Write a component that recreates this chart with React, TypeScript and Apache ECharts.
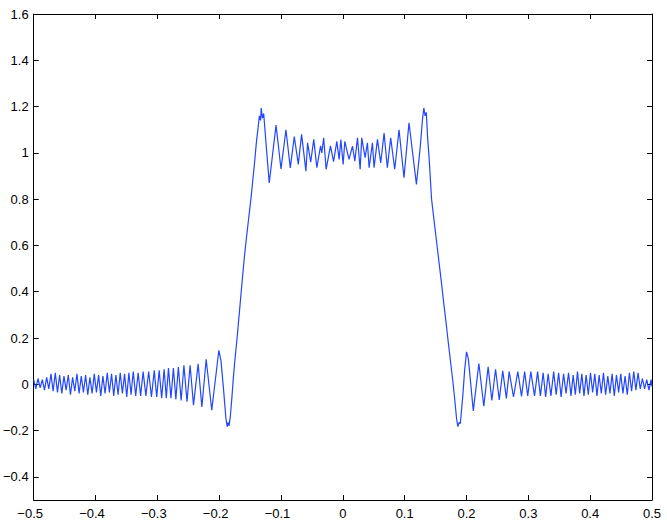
import React, { useEffect, useRef } from "react";
import * as echarts from "echarts";

// Left side-lobe tail (extrema)
const leftTailX = [
  -0.5, -0.4965, -0.493, -0.4895, -0.486, -0.4825, -0.479, -0.4755, -0.472, -0.4685,
  -0.465, -0.4615, -0.458, -0.4545, -0.451, -0.4475, -0.444, -0.4405, -0.437, -0.4335,
  -0.43, -0.4265, -0.423, -0.4195, -0.416, -0.4125, -0.409, -0.4055, -0.402, -0.3985,
  -0.395, -0.3915, -0.388, -0.3845, -0.381, -0.3775, -0.374, -0.3705, -0.367, -0.3635,
  -0.36, -0.3565, -0.353, -0.3495, -0.346, -0.3425, -0.339, -0.335, -0.331, -0.327,
  -0.323, -0.3185, -0.314, -0.3095, -0.305, -0.301, -0.297, -0.293, -0.289, -0.2855,
  -0.282, -0.278, -0.274, -0.27, -0.266, -0.2615, -0.257, -0.252, -0.247, -0.2415,
  -0.234, -0.228, -0.221, -0.212, -0.2005,
];
const leftTailY = [
  0.02, -0.02, 0.025, -0.015, 0.02, -0.025, 0.03, -0.02, 0.045, -0.03,
  0.05, -0.035, 0.04, -0.04, 0.035, -0.025, 0.04, -0.045, 0.03, -0.03,
  0.045, -0.04, 0.035, -0.035, 0.04, -0.045, 0.03, -0.04, 0.045, -0.035,
  0.04, -0.05, 0.035, -0.04, 0.05, -0.035, 0.045, -0.05, 0.04, -0.045,
  0.05, -0.04, 0.045, -0.055, 0.05, -0.045, 0.055, -0.05, 0.05, -0.05,
  0.055, -0.05, 0.055, -0.055, 0.06, -0.055, 0.06, -0.06, 0.065, -0.06,
  0.07, -0.06, 0.07, -0.065, 0.075, -0.07, 0.082, -0.075, 0.082, -0.09,
  0.088, -0.098, 0.108, -0.112, 0.147,
];

// Rising edge and first overshoot
const leftEdgeX = [
  -0.197, -0.193, -0.189, -0.187, -0.1855, -0.184, -0.182, -0.1795, -0.177, -0.174,
  -0.171, -0.168, -0.165, -0.162, -0.159, -0.156, -0.153, -0.15, -0.1475, -0.1455,
  -0.143, -0.14, -0.137, -0.135, -0.133, -0.132, -0.13, -0.128, -0.123,
];
const leftEdgeY = [
  0.1, -0.02, -0.15, -0.183, -0.165, -0.18, -0.14, -0.06, 0.03, 0.12,
  0.2, 0.29, 0.38, 0.47, 0.556, 0.63, 0.7, 0.77, 0.83, 0.886,
  0.95, 1.04, 1.11, 1.16, 1.14, 1.194, 1.15, 1.17, 1.0,
];

// Top plateau ripples
const plateauX = [
  -0.119, -0.108, -0.1, -0.092, -0.085, -0.0785, -0.072, -0.0667, -0.0597, -0.057,
  -0.052, -0.047, -0.042, -0.036, -0.034, -0.031, -0.027, -0.02, -0.015, -0.0097,
  -0.006, -0.0032, 0.0005, 0.0032, 0.01, 0.0156, 0.0194, 0.0237, 0.028, 0.0306,
  0.036, 0.0398, 0.0425, 0.0479, 0.0505, 0.056, 0.0613, 0.0667, 0.072, 0.0774,
  0.0839, 0.0909, 0.0989, 0.107, 0.119,
];
const plateauY = [
  0.87, 1.12, 0.93, 1.1, 0.935, 1.07, 0.95, 1.08, 0.921, 1.043,
  0.96, 1.058, 0.936, 1.03, 1.0, 1.065, 0.929, 1.03, 0.962, 1.05,
  0.972, 1.058, 0.95, 1.05, 0.972, 1.029, 0.964, 1.065, 0.929, 1.065,
  0.979, 1.043, 0.936, 1.043, 0.936, 1.058, 0.957, 1.086, 0.936, 1.065,
  0.929, 1.1, 0.893, 1.13, 0.864,
];

// Falling edge and first undershoot
const rightEdgeX = [
  0.125, 0.129, 0.131, 0.133, 0.135, 0.137, 0.1395, 0.1415, 0.1435, 0.147,
  0.151, 0.155, 0.159, 0.163, 0.167, 0.171, 0.175, 0.1785, 0.1815, 0.184,
  0.186, 0.188, 0.19, 0.194, 0.197, 0.2, 0.203,
];
const rightEdgeY = [
  1.02, 1.15, 1.194, 1.16, 1.175, 1.07, 0.98, 0.89, 0.8, 0.72,
  0.63, 0.54, 0.45, 0.355, 0.265, 0.17, 0.08, 0.0, -0.08, -0.15,
  -0.183, -0.165, -0.17, -0.05, 0.06, 0.14, 0.11,
];

// Right side-lobe tail
const rightTailX = [
  0.211, 0.22, 0.228, 0.235, 0.241, 0.247, 0.253, 0.2586, 0.2645, 0.269,
  0.276, 0.283, 0.289, 0.294, 0.299, 0.304, 0.31, 0.315, 0.3195, 0.324,
  0.328, 0.332, 0.3365, 0.341, 0.345, 0.349, 0.353, 0.357, 0.361, 0.365,
  0.369, 0.3725, 0.376, 0.3795, 0.383, 0.3865, 0.39, 0.3935, 0.397, 0.4005,
  0.404, 0.4075, 0.411, 0.4145, 0.418, 0.4215, 0.425, 0.4285, 0.432, 0.4355,
  0.439, 0.4425, 0.446, 0.4495, 0.453, 0.4565, 0.46, 0.4635, 0.467, 0.4705,
  0.474, 0.4775, 0.481, 0.4845, 0.488, 0.4915, 0.495, 0.4985, 0.5,
];
const rightTailY = [
  -0.115, 0.09, -0.095, 0.075, -0.07, 0.065, -0.068, 0.058, -0.061, 0.055,
  -0.055, 0.055, -0.052, 0.055, -0.05, 0.055, -0.05, 0.055, -0.05, 0.05,
  -0.055, 0.045, -0.05, 0.055, -0.045, 0.05, -0.055, 0.045, -0.04, 0.05,
  -0.05, 0.04, -0.045, 0.055, -0.04, 0.045, -0.05, 0.04, -0.045, 0.05,
  -0.035, 0.045, -0.05, 0.04, -0.04, 0.05, -0.045, 0.035, -0.04, 0.045,
  -0.05, 0.04, -0.035, 0.045, -0.04, 0.035, -0.045, 0.05, -0.03, 0.055,
  -0.025, 0.05, -0.02, 0.025, -0.02, 0.02, -0.025, 0.02, -0.01,
];

const xTicks = [-0.5, -0.4, -0.3, -0.2, -0.1, 0, 0.1, 0.2, 0.3, 0.4, 0.5];
const yTicks = [-0.4, -0.2, 0, 0.2, 0.4, 0.6, 0.8, 1, 1.2, 1.4, 1.6];

const fmt = (v: number) => {
  const r = Math.round(v * 10) / 10;
  const s = String(Math.abs(r) < 1e-9 ? 0 : r);
  return s.replace("-", "\u2212");
};

export default function App() {
  const ref = useRef<HTMLDivElement>(null);
  useEffect(() => {
    if (!ref.current) return;
    const chart = echarts.init(ref.current, undefined, { renderer: "svg" });
    const xs = [...leftTailX, ...leftEdgeX, ...plateauX, ...rightEdgeX, ...rightTailX];
    const ys = [...leftTailY, ...leftEdgeY, ...plateauY, ...rightEdgeY, ...rightTailY];
    const data = xs.map((x, i) => [x, ys[i]]);
    const font = "Liberation Sans, Arial, Helvetica, sans-serif";
    const axisLine = { show: true, onZero: false, lineStyle: { color: "#000", width: 1 } };
    const label = { color: "#000", fontSize: 13, fontFamily: font };
    const tick = (vals: number[]) => ({
      show: true, inside: true, length: 5, customValues: vals, lineStyle: { color: "#000" },
    });
    chart.setOption({
      animation: false,
      backgroundColor: "#fff",
      grid: { left: 32, right: 15, top: 14, bottom: 18 },
      xAxis: [
        {
          type: "value", min: -0.5, max: 0.5, position: "bottom",
          axisLine,
          axisTick: tick(xTicks),
          axisLabel: {
            ...label,
            margin: 7,
            customValues: xTicks,
            formatter: (v: number) => (v < -1e-9 ? `{neg|${fmt(v)}}` : fmt(v)),
            rich: { neg: { ...label, padding: [0, 7, 0, 0] } },
          },
          splitLine: { show: false },
        },
        {
          type: "value", min: -0.5, max: 0.5, position: "top",
          axisLine,
          axisTick: tick(xTicks),
          axisLabel: { show: false },
          splitLine: { show: false },
        },
      ],
      yAxis: [
        {
          type: "value", min: -0.5, max: 1.6, position: "left",
          axisLine,
          axisTick: tick(yTicks),
          axisLabel: { ...label, margin: 5, customValues: yTicks, formatter: fmt },
          splitLine: { show: false },
        },
        {
          type: "value", min: -0.5, max: 1.6, position: "right",
          axisLine,
          axisTick: tick(yTicks),
          axisLabel: { show: false },
          splitLine: { show: false },
        },
      ],
      series: [
        {
          type: "line",
          data,
          showSymbol: false,
          symbol: "none",
          lineStyle: { color: "#2346ff", width: 1.2 },
          xAxisIndex: 0,
          yAxisIndex: 0,
        },
      ],
    });
    return () => chart.dispose();
  }, []);
  return (
    <div
      ref={ref}
      style={{ position: "fixed", left: 0, top: 0, width: 667, height: 520, background: "#fff" }}
    />
  );
}
